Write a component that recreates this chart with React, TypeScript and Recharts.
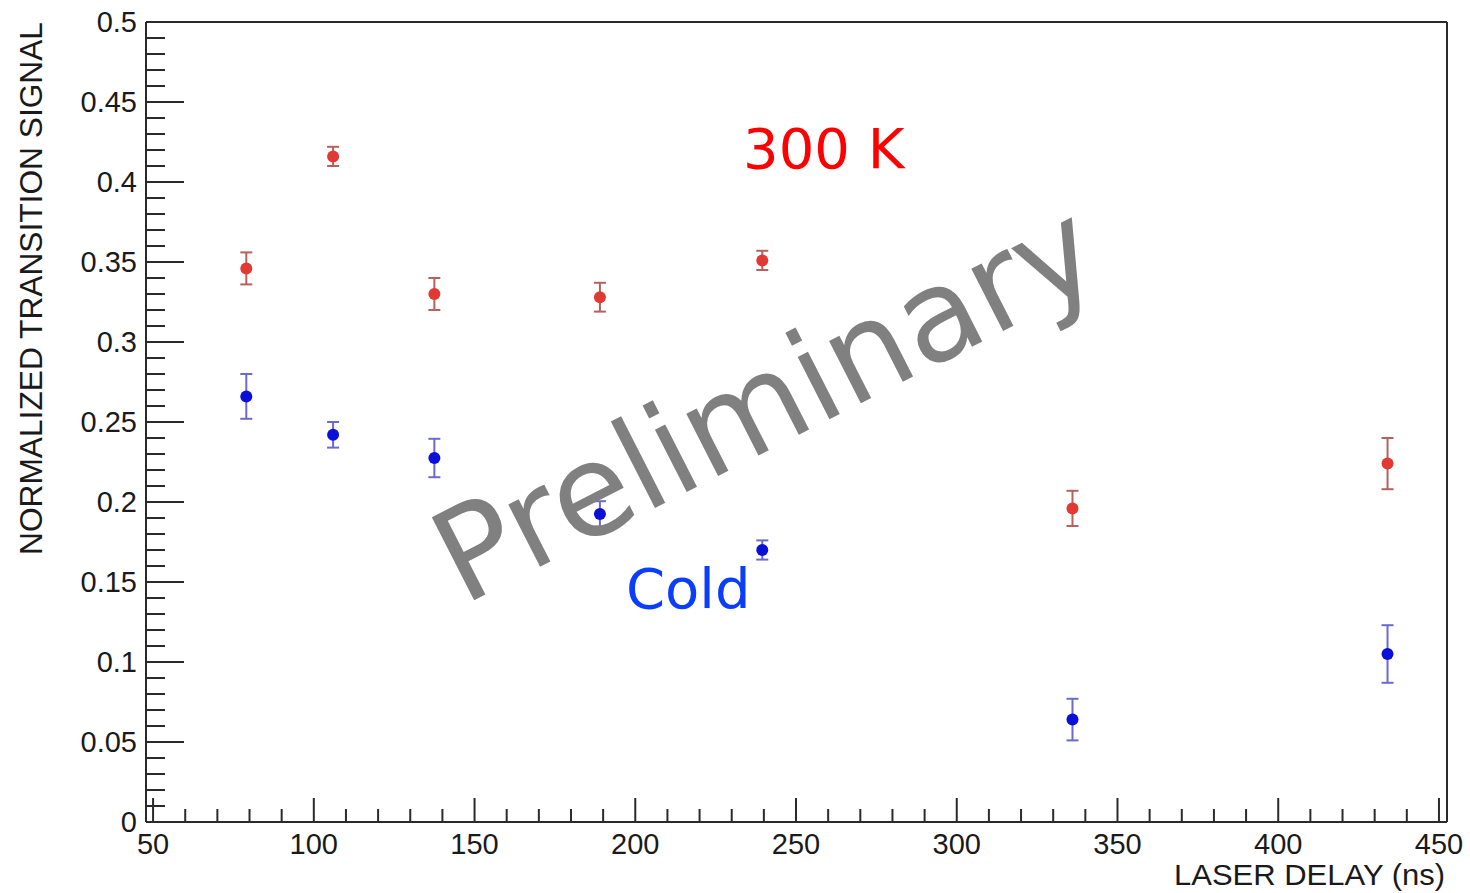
import React from 'react';
import {
  ScatterChart,
  Scatter,
  XAxis,
  YAxis,
  ErrorBar,
  ReferenceLine,
} from 'recharts';

// laser delay (ns) of each measurement
const delays = [79, 106, 137.5, 189, 239.5, 336, 434];
// 300 K run
const warmSignal = [0.346, 0.416, 0.33, 0.328, 0.351, 0.196, 0.224];
const warmError = [0.01, 0.006, 0.01, 0.009, 0.006, 0.011, 0.016];
// cold run
const coldSignal = [0.266, 0.242, 0.2275, 0.1925, 0.17, 0.064, 0.105];
const coldError = [0.014, 0.008, 0.012, 0.008, 0.006, 0.013, 0.018];

// ticks: minor every 10 ns / 0.01, labelled every 50 ns / 0.05
const xTicks = Array.from({ length: 41 }, (_, i) => 50 + i * 10);
const yTicks = Array.from({ length: 51 }, (_, i) => i / 100);

const warmData = delays.map((x, i) => ({ x, y: warmSignal[i], err: warmError[i] }));
const coldData = delays.map((x, i) => ({ x, y: coldSignal[i], err: coldError[i] }));

const WIDTH = 1470;
const HEIGHT = 893;
const AXIS_COLOR = '#2a2a2a';
const LABEL_FONT = '"Liberation Sans", Arial, sans-serif';
const TEXT_FONT = '"DejaVu Sans", Verdana, sans-serif';

/**
 * Bottom tick: ROOT style, drawn inward from the axis
 */
const XTick = ({ x, y, payload }: any) => {
  const v = payload.value;
  const major = v % 50 === 0;
  return (
    <g>
      <line x1={x} x2={x} y1={y} y2={y - (major ? 24 : 13)} stroke={AXIS_COLOR} strokeWidth={2} />
      {major && (
        <text x={x} y={y + 32} textAnchor="middle" fontSize={29} fontFamily={LABEL_FONT} fill="#1a1a1a">
          {v}
        </text>
      )}
    </g>
  );
};

/**
 * Left tick: ROOT style, drawn inward from the axis
 */
const YTick = ({ x, y, payload }: any) => {
  const v = payload.value;
  const idx = Math.round(v * 100);
  const major = idx % 5 === 0;
  return (
    <g>
      <line x1={x} x2={x + (major ? 38 : 19)} y1={y} y2={y} stroke={AXIS_COLOR} strokeWidth={2} />
      {major && (
        <text x={x - 9} y={y} dy="0.36em" textAnchor="end" fontSize={29} fontFamily={LABEL_FONT} fill="#1a1a1a">
          {String(Number(v.toFixed(2)))}
        </text>
      )}
    </g>
  );
};

const Dot = (color: string) => (props: any) => {
  const { cx, cy } = props;
  return <circle cx={cx} cy={cy} r={6} fill={color} />;
};

export default function App() {
  return (
    <div style={{ position: 'relative', width: WIDTH, height: HEIGHT, background: '#fff' }}>
      <style>{'body{margin:0}'}</style>
      <ScatterChart width={WIDTH} height={HEIGHT} margin={{ top: 22, right: 23, left: 0, bottom: 0 }}>
        <XAxis
          type="number"
          dataKey="x"
          domain={[47.8, 452.5]}
          allowDataOverflow
          ticks={xTicks}
          interval={0}
          tick={<XTick />}
          tickLine={false}
          tickSize={0}
          tickMargin={0}
          height={71}
          axisLine={{ stroke: AXIS_COLOR, strokeWidth: 2 }}
        />
        <YAxis
          type="number"
          dataKey="y"
          domain={[0, 0.5]}
          allowDataOverflow
          ticks={yTicks}
          interval={0}
          tick={<YTick />}
          tickLine={false}
          tickSize={0}
          tickMargin={0}
          width={146}
          axisLine={{ stroke: AXIS_COLOR, strokeWidth: 2 }}
        />
        <ReferenceLine y={0.5} stroke={AXIS_COLOR} strokeWidth={2} />
        <ReferenceLine x={452.5} stroke={AXIS_COLOR} strokeWidth={2} />
        <Scatter data={warmData} shape={Dot('#e03a33')} isAnimationActive={false}>
          <ErrorBar dataKey="err" direction="y" width={6} stroke="#b8605c" strokeWidth={2} />
        </Scatter>
        <Scatter data={coldData} shape={Dot('#0a10d8')} isAnimationActive={false}>
          <ErrorBar dataKey="err" direction="y" width={6} stroke="#6a6ad0" strokeWidth={2} />
        </Scatter>
      </ScatterChart>
      <svg
        width={WIDTH}
        height={HEIGHT}
        style={{ position: 'absolute', left: 0, top: 0, pointerEvents: 'none' }}
      >
        <text
          x={42}
          y={22}
          transform="rotate(-90 42 22)"
          textAnchor="end"
          fontSize={31}
          fontFamily={LABEL_FONT}
          fill="#1a1a1a"
          textLength={533}
          lengthAdjust="spacingAndGlyphs"
        >
          NORMALIZED TRANSITION SIGNAL
        </text>
        <text
          x={1445}
          y={885}
          textAnchor="end"
          fontSize={29.5}
          fontFamily={LABEL_FONT}
          fill="#1a1a1a"
          textLength={271}
          lengthAdjust="spacingAndGlyphs"
        >
          LASER DELAY (ns)
        </text>
        <text x={743} y={168} fontSize={56} fontFamily={TEXT_FONT} fill="#ff0000">
          300 K
        </text>
        <text x={626} y={608} fontSize={56} fontFamily={TEXT_FONT} fill="#0b3dff">
          Cold
        </text>
        <text
          x={463}
          y={606}
          transform="rotate(-27 463 606)"
          fontSize={128}
          fontFamily={TEXT_FONT}
          fill="#808080"
        >
          Preliminary
        </text>
      </svg>
    </div>
  );
}
